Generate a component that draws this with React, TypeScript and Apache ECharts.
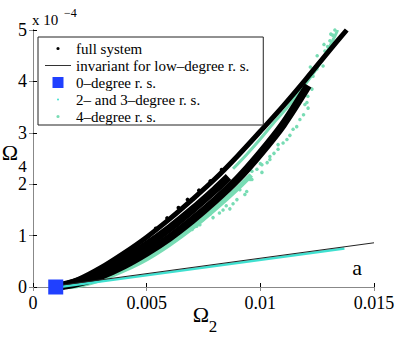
import React, { useEffect, useRef } from "react";
import * as echarts from "echarts";

// Tick labels
const xTickLabels = ["0", "0.005", "0.01", "0.015"];
const yTickLabels = ["0", "1", "2", "3", "4", "5"];

// Series names
const nameFull = "full system";
const nameInv = "invariant for low\u2013degree r. s.";
const name0 = "0\u2013degree r. s.";
const name23 = "2\u2013 and 3\u2013degree r. s.";
const name4 = "4\u2013degree r. s.";

// Full system: dense black branches (Omega2, Omega4 in 1e-4)
const fullBranchA: [number, number][] = [
  [0.001, 0.0], [0.002, 0.15], [0.003, 0.38], [0.004, 0.66], [0.005, 0.97],
  [0.006, 1.32], [0.007, 1.7], [0.008, 2.1], [0.009, 2.55], [0.010, 3.03],
  [0.011, 3.52], [0.012, 4.04], [0.013, 4.58], [0.0138, 5.0],
];
const fullBranchMid: [number, number][] = [
  [0.001, 0.0], [0.002, 0.11], [0.003, 0.3], [0.004, 0.54], [0.005, 0.82],
  [0.006, 1.14], [0.007, 1.5], [0.008, 1.89], [0.0086, 2.14],
];
const fullBranchB: [number, number][] = [
  [0.001, 0.0], [0.002, 0.08], [0.003, 0.22], [0.004, 0.42], [0.005, 0.67],
  [0.006, 0.96], [0.007, 1.3], [0.008, 1.68], [0.009, 2.1], [0.010, 2.6],
  [0.011, 3.16], [0.0121, 3.92],
];
const fullDots: [number, number][] = [
  [0.0054, 1.14], [0.0059, 1.34], [0.0064, 1.54], [0.0068, 1.7], [0.0073, 1.88],
  [0.0078, 2.06], [0.0083, 2.28],
];

// 4-degree reduced system
const deg4Fringe: [number, number][] = [
  [0.0012, 0.0], [0.002, 0.03], [0.003, 0.15], [0.004, 0.33], [0.005, 0.55],
  [0.006, 0.83], [0.007, 1.15], [0.008, 1.52], [0.009, 1.92], [0.0096, 2.18],
];
const deg4Upper: [number, number][] = [
  [0.0088, 2.3], [0.0094, 2.58], [0.010, 2.88], [0.0106, 3.2], [0.0112, 3.5],
  [0.0118, 3.84], [0.0124, 4.2], [0.0129, 4.55], [0.0133, 4.9], [0.0134, 5.0],
];
const deg4Dots: [number, number][] = [
  [0.00734, 1.21], [0.00748, 1.31], [0.00792, 1.35], [0.00836, 1.5], [0.00866, 1.52],
  [0.00897, 1.7], [0.00932, 1.8], [0.0094, 1.86], [0.0091, 1.89], [0.00955, 2.09],
  [0.00963, 2.09], [0.00985, 2.29], [0.01007, 2.23], [0.01042, 2.48], [0.01078, 2.77],
  [0.00946, 2.13], [0.00963, 2.25], [0.01007, 2.38], [0.01042, 2.54], [0.01078, 2.68],
  [0.01117, 2.87], [0.01144, 3.07], [0.01174, 3.26], [0.01205, 3.59], [0.01196, 3.55],
  [0.01209, 3.71], [0.01227, 3.85], [0.01188, 3.98], [0.01232, 4.1], [0.01249, 4.24],
  [0.01276, 4.3], [0.01262, 4.39], [0.01284, 4.59], [0.01306, 4.79], [0.01328, 5.0],
  [0.01318, 4.9], [0.01296, 4.68], [0.0078, 1.42], [0.0082, 1.44], [0.0085, 1.58],
  [0.0088, 1.62], [0.007, 1.12], [0.0072, 1.18], [0.010, 2.4], [0.0103, 2.42],
  [0.0106, 2.6], [0.011, 2.8], [0.0113, 2.95], [0.0116, 3.12], [0.0119, 3.35],
  [0.0121, 3.48], [0.0122, 4.28], [0.0125, 4.5], [0.0128, 4.72], [0.0131, 4.92],
];

// 2- and 3-degree reduced system, invariant line, 0-degree point
const deg23Line: [number, number][] = [[0.001, -0.01], [0.0137, 0.75]];
const invariantLine: [number, number][] = [[0.001, 0.02], [0.015, 0.86]];
const deg0Point: [number, number][] = [[0.001, 0.0]];

const FONT = "Liberation Serif";
const GREEN = "#78dcb4";
const CYAN = "#40e0d0";
const BLUE = "#2040ff";

const dotIcon = (r: number) =>
  `path://M0,0 M26,12 M${13 - r},6 A${r},${r} 0 1,0 ${13 + r},6 A${r},${r} 0 1,0 ${13 - r},6 Z`;
const lineIcon = "path://M0,0 M26,12 M0,5.5 L26,5.5 L26,6.5 L0,6.5 Z";
const squareIcon = "path://M0,0 M26,12 M7.5,0.5 L18.5,0.5 L18.5,11.5 L7.5,11.5 Z";

export default function App() {
  const ref = useRef<HTMLDivElement>(null);
  useEffect(() => {
    if (!ref.current) return;
    const chart = echarts.init(ref.current, undefined, { renderer: "svg" });
    const axisCommon = {
      type: "value" as const,
      splitLine: { show: false },
    };
    chart.setOption({
      animation: false,
      backgroundColor: "#fff",
      textStyle: { fontFamily: FONT },
      grid: { left: 33, top: 30, width: 341, height: 257 },
      xAxis: [
        {
          ...axisCommon,
          position: "bottom",
          min: 0,
          max: 0.015,
          interval: 0.005,
          axisLine: { show: true, lineStyle: { color: "#000", width: 1 } },
          axisTick: { show: true, inside: true, length: 4, lineStyle: { color: "#000" } },
          axisLabel: {
            color: "#000",
            fontFamily: FONT,
            fontSize: 18,
            margin: 7,
            formatter: (v: number) => xTickLabels[Math.round(v / 0.005)],
          },
        },
        {
          ...axisCommon,
          position: "top",
          min: 0,
          max: 0.015,
          interval: 0.005,
          axisLine: { show: true, lineStyle: { color: "#888", width: 1 } },
          axisTick: { show: true, inside: true, length: 4, lineStyle: { color: "#888" } },
          axisLabel: { show: false },
        },
      ],
      yAxis: [
        {
          ...axisCommon,
          position: "left",
          min: 0,
          max: 5,
          interval: 1,
          axisLine: { show: true, lineStyle: { color: "#000", width: 1 } },
          axisTick: { show: true, inside: true, length: 4, lineStyle: { color: "#000" } },
          axisLabel: {
            color: "#000",
            fontFamily: FONT,
            fontSize: 18,
            margin: 6,
            formatter: (v: number) => yTickLabels[Math.round(v)],
          },
        },
        {
          ...axisCommon,
          position: "right",
          min: 0,
          max: 5,
          interval: 1,
          axisLine: { show: true, lineStyle: { color: "#888", width: 1 } },
          axisTick: { show: true, inside: true, length: 4, lineStyle: { color: "#888" } },
          axisLabel: { show: false },
        },
      ],
      legend: {
        orient: "vertical",
        left: 38,
        top: 37,
        padding: [4, 14, 1, 7],
        itemGap: 2,
        itemWidth: 26,
        itemHeight: 12,
        borderColor: "#222",
        borderWidth: 1,
        borderRadius: 0,
        backgroundColor: "#fff",
        selectedMode: false,
        textStyle: { fontFamily: FONT, fontSize: 15, color: "#000", lineHeight: 15 },
        data: [
          { name: nameFull, icon: dotIcon(1.6), itemStyle: { color: "#000", borderWidth: 0, opacity: 1 } },
          { name: nameInv, icon: lineIcon, itemStyle: { color: "#333", borderWidth: 0, opacity: 1 } },
          { name: name0, icon: squareIcon, itemStyle: { color: BLUE, borderWidth: 0, opacity: 1 } },
          { name: name23, icon: dotIcon(1.0), itemStyle: { color: CYAN, borderWidth: 0, opacity: 1 } },
          { name: name4, icon: dotIcon(1.6), itemStyle: { color: GREEN, borderWidth: 0, opacity: 1 } },
        ],
      },
      graphic: [
        { type: "text", x: 32, y: 20, style: { text: "x 10", font: `15px ${FONT}`, fill: "#000", align: "left", verticalAlign: "middle" } },
        { type: "text", x: 64, y: 13, style: { text: "\u22124", font: `12px ${FONT}`, fill: "#000", align: "left", verticalAlign: "middle" } },
        { type: "text", x: 10, y: 152, style: { text: "\u03A9", font: `22px ${FONT}`, fill: "#000", align: "center", verticalAlign: "middle" } },
        { type: "text", x: 22.5, y: 166, style: { text: "4", font: `17px ${FONT}`, fill: "#000", align: "center", verticalAlign: "middle" } },
        { type: "text", x: 201, y: 314.5, style: { text: "\u03A9", font: `22px ${FONT}`, fill: "#000", align: "center", verticalAlign: "middle" } },
        { type: "text", x: 213, y: 326.5, style: { text: "2", font: `17px ${FONT}`, fill: "#000", align: "center", verticalAlign: "middle" } },
        { type: "text", x: 357, y: 267, style: { text: "a", font: `22px ${FONT}`, fill: "#000", align: "center", verticalAlign: "middle" } },
      ],
      series: [
        {
          name: name4, type: "line", data: deg4Fringe, smooth: 0.3, showSymbol: false,
          color: GREEN, lineStyle: { color: GREEN, width: 5 }, z: 2,
        },
        {
          name: name4, type: "line", data: deg4Upper, smooth: 0.3, showSymbol: false,
          color: GREEN, lineStyle: { color: GREEN, width: 3 }, z: 2,
        },
        {
          name: name4, type: "scatter", data: deg4Dots, symbolSize: 3.5,
          itemStyle: { color: GREEN, opacity: 1 }, z: 2,
        },
        {
          name: nameFull, type: "line", data: fullBranchA, smooth: 0.3, showSymbol: false,
          color: "#000", lineStyle: { color: "#000", width: 5 }, z: 3,
        },
        {
          name: nameFull, type: "line", data: fullBranchMid, smooth: 0.3, showSymbol: false,
          color: "#000", lineStyle: { color: "#000", width: 8 }, z: 3,
        },
        {
          name: nameFull, type: "line", data: fullBranchB, smooth: 0.3, showSymbol: false,
          color: "#000", lineStyle: { color: "#000", width: 8 }, z: 3,
        },
        {
          name: nameFull, type: "scatter", data: fullDots, symbolSize: 4,
          itemStyle: { color: "#000", opacity: 1 }, z: 3,
        },
        {
          name: name23, type: "line", data: deg23Line, showSymbol: false,
          color: CYAN, lineStyle: { color: CYAN, width: 2.5 }, z: 4,
        },
        {
          name: nameInv, type: "line", data: invariantLine, showSymbol: false,
          color: "#333", lineStyle: { color: "#222", width: 1 }, z: 5,
        },
        {
          name: name0, type: "scatter", data: deg0Point, symbol: "rect", symbolSize: 15,
          itemStyle: { color: BLUE, opacity: 1 }, clip: false, z: 6,
        },
      ],
    });
    return () => chart.dispose();
  }, []);
  return (
    <div
      ref={ref}
      style={{ position: "fixed", left: 0, top: 0, width: 399, height: 337 }}
    />
  );
}
